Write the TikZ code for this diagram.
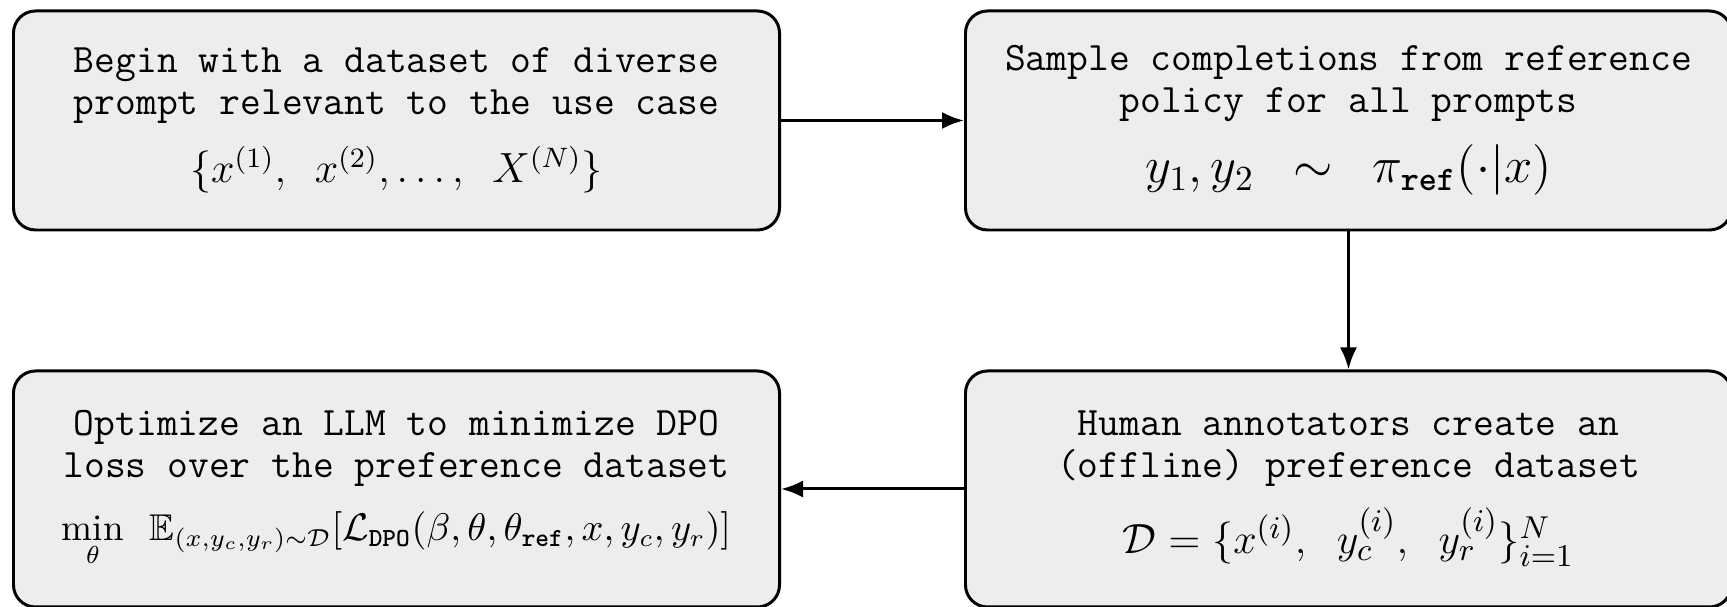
\documentclass[tikz,border=0pt]{standalone}
\usepackage{amsmath,amssymb}
\usepackage{fontspec}
\newfontfamily\bmono{lmmonolt10-bold}[Extension=.otf]
\newcommand{\bt}[1]{\text{\bmono #1}}
\usetikzlibrary{positioning,arrows.meta}

\begin{document}
\begin{tikzpicture}[
  etapa/.style={draw, line width=0.85pt, rounded corners=2.2mm, fill=black!7,
                minimum width=7.66cm, minimum height=2.19cm, align=center,
                font=\ttfamily\fontsize{11.5}{11.9}\selectfont},
  fl/.style={-{Latex[length=2.2mm, width=1.7mm]}, line width=0.85pt}
]
\useasboundingbox (0,0) rectangle (17.27,-6.07);

\node[etapa] (p1) at (3.965,-1.205)
  {Begin with a dataset of diverse\\prompt relevant to the use case\\[5.5pt]
   \fontsize{12}{15}\selectfont$\{x^{(1)},\ x^{(2)},\ldots,\ X^{(N)}\}$};
\node[etapa, right=1.83cm of p1] (p2)
  {Sample completions from reference\\policy for all prompts\\[5.5pt]
   \fontsize{14}{16}\selectfont$y_1, y_2\ \sim\ \pi_{\bt{ref}}(\cdot|x)$};
\node[etapa, minimum height=2.36cm, below=1.38cm of p2] (p3)
  {Human annotators create an\\(offline) preference dataset\\[5pt]
   \fontsize{13}{15}\selectfont$\mathcal{D} = \{x^{(i)},\ y_c^{(i)},\ y_r^{(i)}\}_{i=1}^{N}$};
\node[etapa, minimum height=2.36cm, left=1.83cm of p3] (p4)
  {Optimize an LLM to minimize DPO\\loss over the preference dataset\\[6pt]
   \fontsize{10.6}{13}\selectfont$\displaystyle\min_{\theta}\ \mathbb{E}_{(x,y_c,y_r)\sim\mathcal{D}}
   [\mathcal{L}_{\bt{DPO}}(\beta,\theta,\theta_{\bt{ref}},x,y_c,y_r)]$};

\draw[fl] (p1) -- (p2);
\draw[fl] (p2) -- (p3);
\draw[fl] (p3) -- (p4);
\end{tikzpicture}
\end{document}
